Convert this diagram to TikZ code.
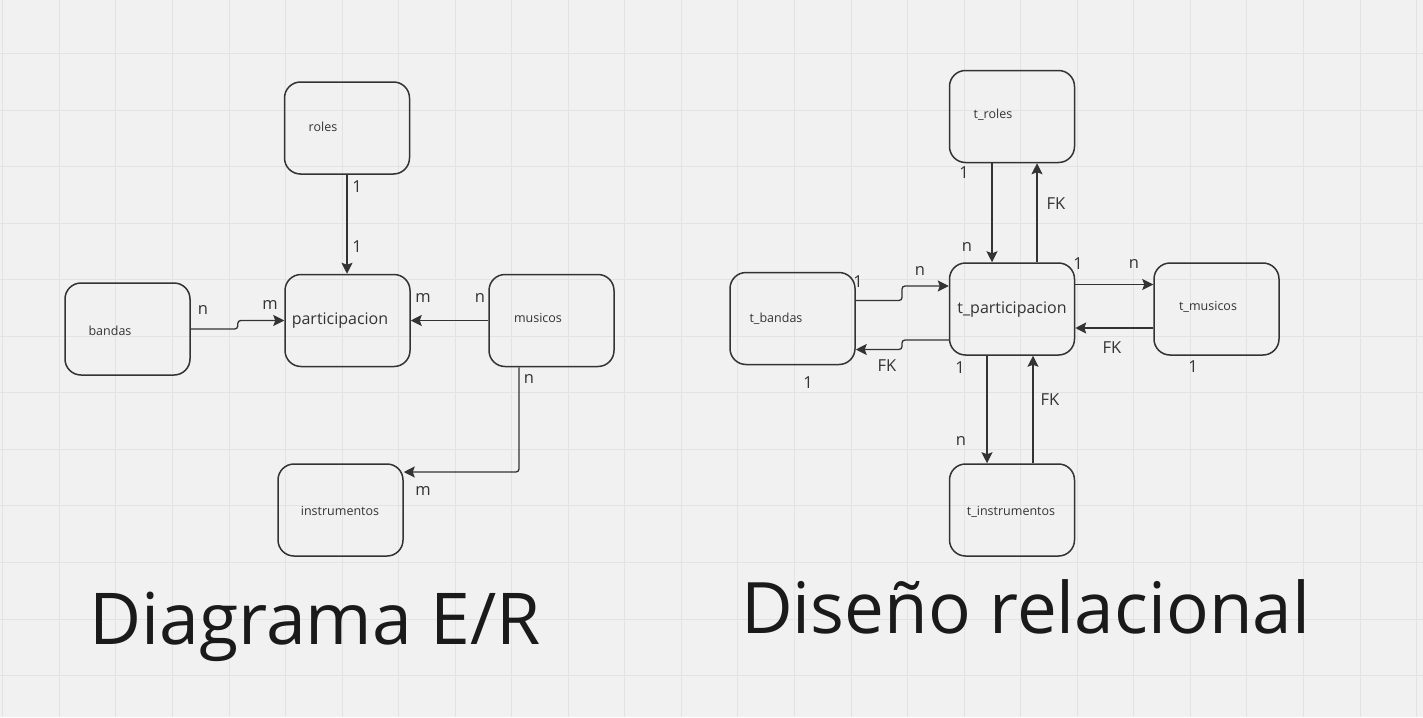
\documentclass[tikz,border=0pt]{standalone}
\usepackage{fontspec}
\setmainfont{Open Sans}
\usetikzlibrary{arrows.meta}
\definecolor{bg}{HTML}{F1F1F1}
\definecolor{gridc}{HTML}{E3E3E3}
\definecolor{ink}{HTML}{333333}
\definecolor{ttlc}{HTML}{1A1A1A}
\begin{document}
\begin{tikzpicture}[x=1pt,y=-1pt,
  ent/.style={draw=ink, line width=1.5pt, rounded corners=16pt, inner sep=0pt,
              minimum width=125pt, minimum height=92pt},
  etext/.style={font=\fontsize{12.5}{14}\selectfont, text=ink, inner sep=0pt},
  ctext/.style={font=\fontsize{16}{18}\selectfont, text=ink, inner sep=0pt},
  lab/.style={font=\fontsize{16.5}{18}\selectfont, text=ink, inner sep=0pt},
  conn/.style={draw=ink, line width=1.3pt, -{Stealth[length=11pt,width=11pt,inset=2pt]}},
  jog/.style={conn, rounded corners=3pt},
  ttl/.style={font=\fontsize{71.5}{80}\selectfont, text=ttlc, inner sep=0pt, anchor=base west}]
\fill[bg] (0,0) rectangle (1423,717);
\useasboundingbox (0,0) rectangle (1423,717);
\foreach \i in {0,...,25} \draw[gridc, line width=1pt] ({2.8+56.55*\i},0) -- ++(0,717);
\foreach \j in {1,...,12} \draw[gridc, line width=1pt] (0,{-3+56.55*\j}) -- ++(1423,0);

% ---------- Diagrama E/R ----------
\node[ent] (roles) at (347,128) {};
\node[ent] (part) at (347.5,320.5) {};
\node[ent] (musicos) at (551.5,320.5) {};
\node[ent] (bandas) at (127.5,329) {};
\node[ent] (instr) at (340.5,510) {};
\node[etext] (roles-t) at (323,127) {roles};
\node[ctext] (part-t) at (340,321) {participacion};
\node[etext] (musicos-t) at (538,318) {musicos};
\node[etext] (bandas-t) at (110,331) {bandas};
\node[etext] (instr-t) at (340,511) {instrumentos};

\coordinate (xa) at (347,0);
\coordinate (m1) at (519,472);
\draw[conn] (roles.south -| xa) -- (part.north -| xa);
\draw[jog] (bandas.east) -- ++(47,0) |- (part.west);
\draw[conn] (musicos.west) -- (part.east);
\draw[jog] (musicos.south -| m1) -- (m1) -- (instr.east |- m1);

\node[lab] (l1) at (357,187) {1};
\node[lab] (l2) at (357,247) {1};
\node[lab] (l3) at (203,310) {n};
\node[lab] (l4) at (270,305) {m};
\node[lab] (l5) at (423,298) {m};
\node[lab] (l6) at (480,298) {n};
\node[lab] (l7) at (529,379) {n};
\node[lab] (l8) at (423,491) {m};

\node[ttl] (t1) at (89,644) {Diagrama E/R};

% ---------- Diseño relacional ----------
\node[ent] (troles) at (1012,116.5) {};
\node[ent] (tpart) at (1012,309) {};
\node[ent] (tmus) at (1216.5,309) {};
\node[ent] (tband) at (792.5,318.5) {};
\node[ent] (tinstr) at (1012,510) {};
\node[etext] (troles-t) at (993,115) {t\_roles};
\node[ctext] (tpart-t) at (1012,310) {t\_participacion};
\node[etext] (tmus-t) at (1208,307) {t\_musicos};
\node[etext] (tband-t) at (776,319) {t\_bandas};
\node[etext] (tinstr-t) at (1011,512) {t\_instrumentos};

\coordinate (r1) at (992,0);
\coordinate (r2) at (1037,0);
\coordinate (r3) at (987,0);
\coordinate (r4) at (1033,0);
\coordinate (h1) at (0,284.5);
\coordinate (h2) at (0,328);
\coordinate (b1) at (902,300.5);
\coordinate (b2) at (902,286);
\coordinate (b3) at (902,340);
\coordinate (b4) at (902,349.5);
\draw[conn] (troles.south -| r1) -- (tpart.north -| r1);
\draw[conn] (tpart.north -| r2) -- (troles.south -| r2);
\draw[conn] (tpart.south -| r3) -- (tinstr.north -| r3);
\draw[conn] (tinstr.north -| r4) -- (tpart.south -| r4);
\draw[conn] (tpart.east |- h1) -- (tmus.west |- h1);
\draw[conn] (tmus.west |- h2) -- (tpart.east |- h2);
\draw[jog] (tband.east |- b1) -- (b1) -- (b2) -- (tpart.west |- b2);
\draw[jog] (tpart.west |- b3) -- (b3) -- (b4) -- (tband.east |- b4);

\node[lab] (k1) at (964,173) {1};
\node[lab] (k2) at (967,247) {n};
\node[lab] (k3) at (1056,204) {FK};
\node[lab] (k4) at (1078,264) {1};
\node[lab] (k5) at (1134,264) {n};
\node[lab] (k6) at (1112,348) {FK};
\node[lab] (k7) at (1193,367) {1};
\node[lab] (k8) at (960,368) {1};
\node[lab] (k9) at (961,441) {n};
\node[lab] (k10) at (1050,400) {FK};
\node[lab] (k11) at (858,282) {1};
\node[lab] (k12) at (920,271) {n};
\node[lab] (k13) at (887,366) {FK};
\node[lab] (k14) at (808,383) {1};

\node[ttl, font=\fontsize{71}{80}\selectfont] (t2) at (741,633) {Diseño relacional};
\end{tikzpicture}
\end{document}
